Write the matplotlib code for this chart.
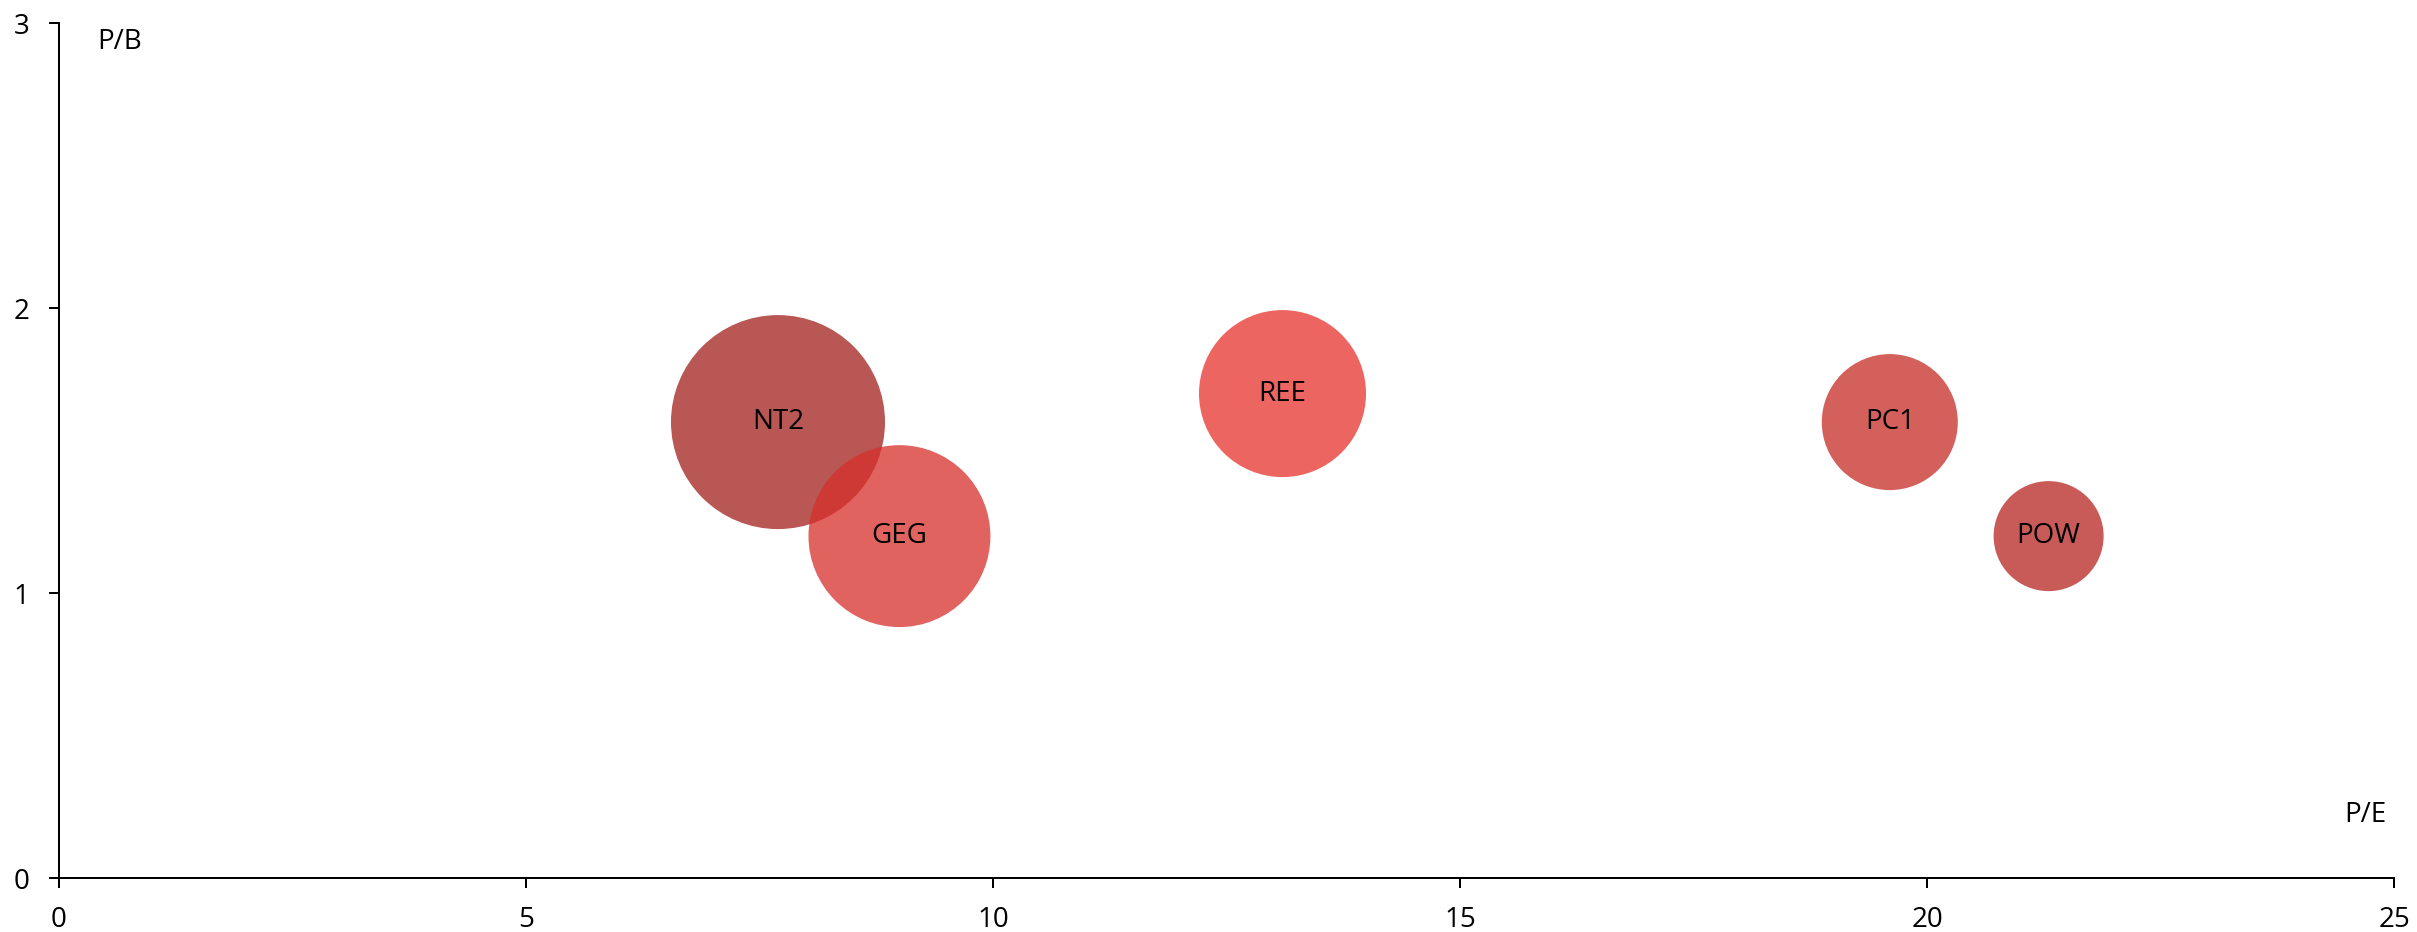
import matplotlib
matplotlib.use("Agg")
import matplotlib.pyplot as plt

# Data
tickers = ["NT2", "GEG", "REE", "PC1", "POW"]
pe = [7.7, 9.0, 13.1, 19.6, 21.3]
pb = [1.6, 1.2, 1.7, 1.6, 1.2]
bubble_size = [45.8, 33.1, 27.9, 18.5, 12.1]
colors = ["#A01F1A", "#D72F2B", "#E6322C", "#C62B26", "#B62420"]

x_ticks = [0, 5, 10, 15, 20, 25]
y_ticks = [0, 1, 2, 3]

plt.rcParams['font.family'] = ['Open Sans', 'DejaVu Sans']

fig = plt.figure(figsize=(24.17, 9.32), dpi=100)
ax = fig.add_axes([0.02424, 0.05773, 0.99061 - 0.02424, 0.97532 - 0.05773])

sizes = [v * 518.4 for v in bubble_size]
for t, x, y, s, c in zip(tickers, pe, pb, sizes, colors):
    ax.scatter([x], [y], s=s, color=c, alpha=0.75, edgecolors='none', zorder=2)
    ax.text(x, y, t, ha='center', va='center', fontsize=20, color='black', zorder=3)

ax.set_xlim(0, 25)
ax.set_ylim(0, 3)
ax.set_xticks(x_ticks)
ax.set_yticks(y_ticks)
ax.set_xticklabels([str(v) for v in x_ticks])
ax.set_yticklabels([str(v) for v in y_ticks])

for side in ['top', 'right']:
    ax.spines[side].set_visible(False)
for side in ['left', 'bottom']:
    ax.spines[side].set_linewidth(1.44)
    ax.spines[side].set_color('black')

ax.tick_params(axis='x', direction='out', length=7.2, width=1.44, labelsize=20, pad=13)
ax.tick_params(axis='y', direction='out', length=7.2, width=1.44, labelsize=20, pad=14)

ax.text(0.41, 2.934, "P/B", ha='left', va='center', fontsize=20)
ax.text(24.92, 0.222, "P/E", ha='right', va='center', fontsize=20)

fig.savefig("out.png", dpi=100)
